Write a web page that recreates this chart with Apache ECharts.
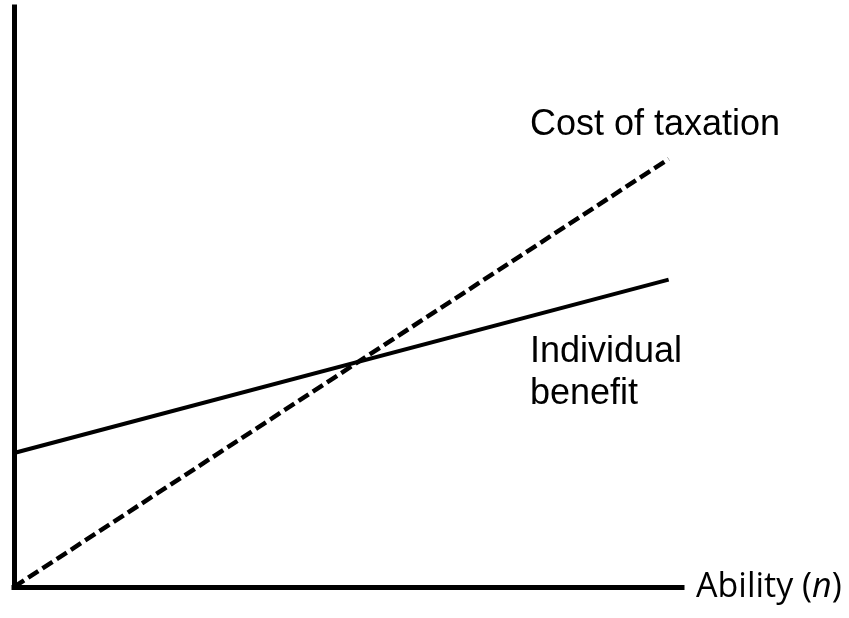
<!DOCTYPE html>
<html>
<head>
<meta charset="utf-8">
<script src="https://cdn.jsdelivr.net/npm/echarts@6/dist/echarts.min.js"></script>
<style>
  html, body { margin: 0; padding: 0; background: #fff; }
  #chart { width: 849px; height: 618px; }
</style>
</head>
<body>
<div id="chart"></div>
<script>
// 数据：能力 (n) 的两端点
const abilityPts = [0, 98];
const costOfTaxation = [0, 73.8];
const individualBenefit = [23.1, 53.0];

const chart = echarts.init(document.getElementById('chart'));

const toPairs = (xs, ys) => xs.map((x, i) => [x, ys[i]]);

const option = {
  backgroundColor: '#fff',
  animation: false,
  grid: {
    left: 14,
    top: 7,
    right: 167,
    bottom: 31,
  },
  xAxis: {
    type: 'value',
    min: 0,
    max: 100,
    name: '{a|Ability (}{i|n}{a|)}',
    nameLocation: 'end',
    nameGap: 14,
    nameTextStyle: {
      rich: {
        a: { fontFamily: 'Open Sans', fontSize: 34, color: '#000' },
        i: { fontFamily: 'Open Sans', fontSize: 34, fontStyle: 'italic', color: '#000' },
      },
    },
    axisLine: { show: true, onZero: false, lineStyle: { color: '#000', width: 5, cap: 'square' } },
    axisTick: { show: false },
    axisLabel: { show: false },
    splitLine: { show: false },
  },
  yAxis: {
    type: 'value',
    min: 0,
    max: 100,
    axisLine: { show: true, onZero: false, lineStyle: { color: '#000', width: 5, cap: 'square' } },
    axisTick: { show: false },
    axisLabel: { show: false },
    splitLine: { show: false },
  },
  series: [
    {
      name: 'Cost of taxation',
      type: 'line',
      data: toPairs(abilityPts, costOfTaxation),
      symbol: 'none',
      lineStyle: { color: '#000', width: 4.5, type: [12, 5] },
      z: 3,
    },
    {
      name: 'Individual benefit',
      type: 'line',
      data: toPairs(abilityPts, individualBenefit),
      symbol: 'none',
      lineStyle: { color: '#000', width: 4 },
      z: 3,
    },
  ],
  graphic: [
    {
      type: 'text',
      left: 530,
      top: 107,
      style: { text: 'Cost of taxation', font: '36px "Liberation Sans", Arial', fill: '#000' },
    },
    {
      type: 'text',
      left: 530,
      top: 331,
      style: { text: 'Individual\nbenefit', font: '36px "Liberation Sans", Arial', fill: '#000', lineHeight: 42 },
    },
  ],
};

chart.setOption(option);
</script>
</body>
</html>
